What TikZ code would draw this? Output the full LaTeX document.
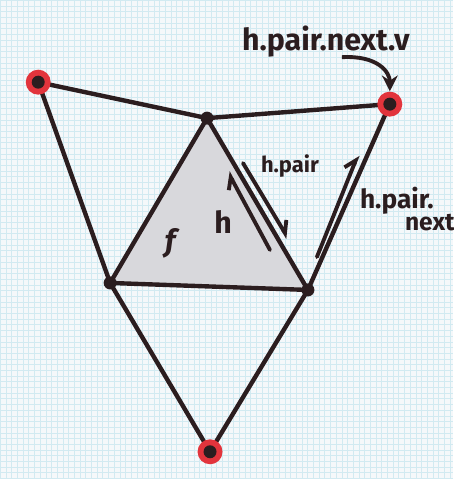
\documentclass[tikz,border=0pt]{standalone}
\usepackage{fontspec}
\setmainfont{Fira Sans}
\usetikzlibrary{arrows.meta}
\definecolor{marker}{HTML}{2B1D1F}
\definecolor{ringred}{HTML}{E2343C}
\definecolor{paper}{HTML}{F5F8FA}
\definecolor{paperline}{HTML}{D2EAF1}
\definecolor{hatch}{HTML}{D8D8DC}
\begin{document}
\begin{tikzpicture}[x=0.02cm, y=-0.02cm,
    edge/.style={line width=2.5pt, draw=marker, line cap=round},
    vdot/.style={circle, fill=marker, inner sep=0pt, minimum size=0.26cm},
    ring/.style={circle, fill=ringred, inner sep=0pt, minimum size=0.5cm},
    half/.style={line width=2.2pt, draw=marker, line cap=round, -{Straight Barb[left, length=6pt, width=9pt]}},
    pointer/.style={line width=2.2pt, draw=marker, -{Stealth[length=9pt, width=9pt]}},
    lab/.style={text=marker, font=\bfseries, inner sep=0pt, anchor=base}
  ]

  % Paper
  \fill[paper] (0,0) rectangle (453,479);
  \draw[paperline, line width=0.3pt, step=0.114cm] (0,0) grid (453,479);
  \useasboundingbox (0,0) rectangle (453,479);

  % Vertices
  \coordinate (A) at (38,82);
  \coordinate (B) at (207,118);
  \coordinate (C) at (390,104);
  \coordinate (D) at (110,283);
  \coordinate (E) at (308,290);
  \coordinate (F) at (210,452);

  % Face f
  \fill[hatch] (B) -- (D) -- (E) -- cycle;

  % Edges
  \draw[edge] (A) -- (B) -- (C);
  \draw[edge] (A) -- (D) -- (B) -- (E) -- (C);
  \draw[edge] (D) -- (E);
  \draw[edge] (D) -- (F) -- (E);

  % Dots
  \node[ring] (A-ring) at (A) {};
  \node[ring] (C-ring) at (C) {};
  \node[ring] (F-ring) at (F) {};
  \foreach \v in {A,B,C,D,E,F}
    \node[vdot] (\v-dot) at (\v) {};

  % Half-edges
  \coordinate (h-tail) at (270,250);
  \coordinate (h-tip) at (228,172);
  \coordinate (hp-tail) at (243,163);
  \coordinate (hp-tip) at (288,238);
  \coordinate (hpn-tail) at (317,257);
  \coordinate (hpn-tip) at (358,155);
  \draw[half] (h-tail) -- (h-tip);
  \draw[half] (hp-tail) -- (hp-tip);
  \draw[half] (hpn-tail) -- (hpn-tip);

  % Labels
  \node[lab, font=\bfseries\LARGE] (vlab) at (326,50) {h.pair.next.v};
  \node[lab, font=\bfseries\fontsize{12.5}{13}\selectfont] (hplab) at (290,172) {h.pair};
  \node[lab, font=\bfseries\fontsize{15}{16}\selectfont] (hpnlab) at (397,208) {h.pair.};
  \node[lab, font=\bfseries\fontsize{14}{15}\selectfont] (nextlab) at (430,230) {next};
  \node[lab, font=\bfseries\LARGE] (hlab) at (223,233) {h};
  \node[lab, font=\bfseries\itshape\LARGE] (flab) at (170,252) {f};

  % Pointer to h.pair.next.v
  \coordinate (vtail) at (342,57);
  \draw[pointer] (vtail) .. controls (378,55) and (390,72) .. (C-ring);

\end{tikzpicture}
\end{document}
